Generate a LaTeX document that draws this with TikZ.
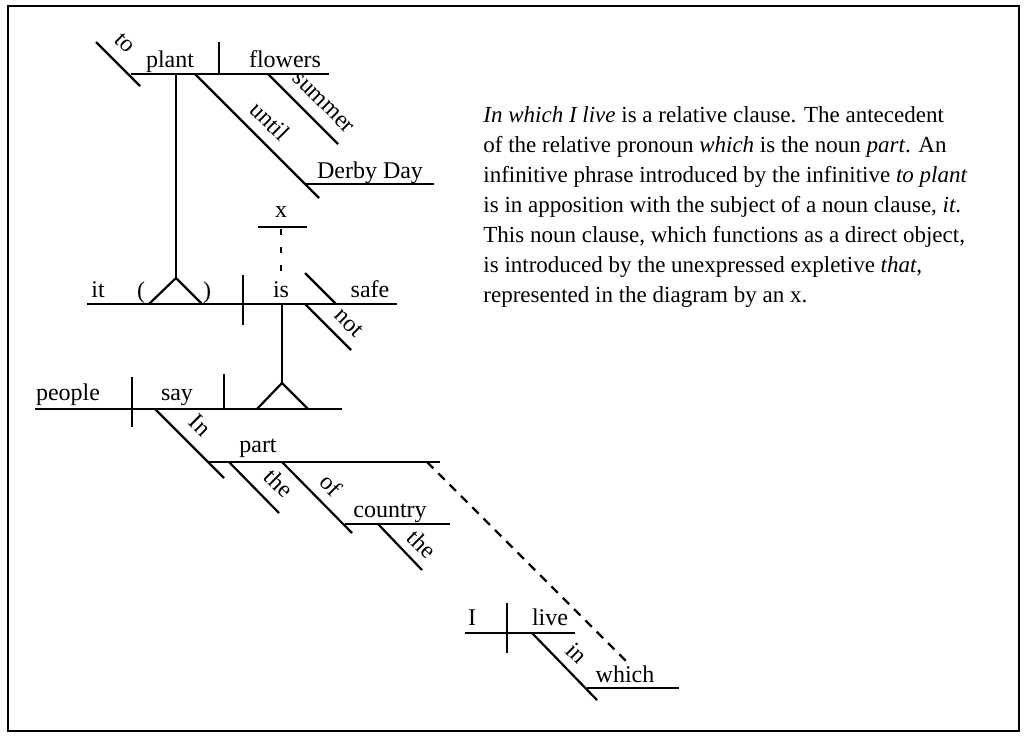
\documentclass[tikz,border=0pt]{standalone}
\usepackage{fontspec}
\setmainfont{Liberation Serif}
\usetikzlibrary{positioning}

\begin{document}
\begin{tikzpicture}[
  x=0.5pt, y=-0.5pt,
  rule/.style={line width=1.1pt},
  link/.style={line width=1.1pt, dash pattern=on 4.5pt off 3.5pt},
  gap/.style={line width=0.8pt, dash pattern=on 3pt off 6pt},
  word/.style={anchor=base, inner sep=0pt, font=\fontsize{12}{15}\selectfont},
  slantword/.style={rotate=-45, inner sep=0pt, font=\fontsize{12}{15}\selectfont}
]
  \useasboundingbox (0,0) rectangle (1026,738);
  \draw[line width=1pt] (8,6) rectangle (1019,731);

  % infinitive phrase: to plant flowers until Derby Day
  \coordinate (pl1) at (131,74);
  \coordinate (pl2) at (329,74);
  \draw[rule] (pl1) -- (pl2);
  \draw[rule] (96,42) -- (140,86);
  \draw[rule] (219,42) -- (219,74);
  \node[word] (plant) at (170,68) {plant};
  \node[word] (flowers) at (285,68) {flowers};
  \node[slantword] (to) at (125,43) {to};
  \draw[rule] (268,74) -- (338,144);
  \node[slantword] (summer) at (323,103) {summer};
  \draw[rule] (195,74) -- (319,198);
  \node[slantword] (until) at (270,121) {until};
  \draw[rule] (305,184) -- (434,184);
  \node[word] (derby) at (370,178) {Derby Day};

  % stand down to the subject it
  \coordinate (top) at (176,278);
  \draw[rule] (176,74) -- (top);
  \draw[rule] (149,304) -- (top) -- (202,304);

  % noun clause: it is safe
  \draw[rule] (87,304) -- (397,304);
  \draw[rule] (243,275) -- (243,325);
  \node[word] (it) at (98,297) {it};
  \node[word] (lpar) at (141,298) {(};
  \node[word] (rpar) at (207,298) {)};
  \node[word] (is) at (281,297) {is};
  \draw[rule] (305,273) -- (336,304);
  \node[word] (safe) at (370,297) {safe};
  \draw[rule] (305,304) -- (351,350);
  \node[slantword] (not) at (349,323) {not};

  % expletive x
  \draw[rule] (258,227) -- (307,227);
  \node[word] (x) at (281,217) {x};
  \draw[gap] (281,229) -- (281,281);

  % stand down to the main clause
  \coordinate (mid) at (282,383);
  \draw[rule] (282,304) -- (mid);
  \draw[rule] (257,409) -- (mid) -- (308,409);

  % main clause: people say
  \draw[rule] (35,409) -- (342,409);
  \draw[rule] (132,377) -- (132,427);
  \draw[rule] (224,374) -- (224,409);
  \node[word] (people) at (68,400) {people};
  \node[word] (say) at (177,400) {say};

  % In the part of the country
  \draw[rule] (155,409) -- (224,478);
  \node[slantword] (in1) at (200,425) {In};
  \coordinate (pt1) at (208,462);
  \coordinate (pt2) at (440,462);
  \draw[rule] (pt1) -- (pt2);
  \node[word] (part) at (258,452) {part};
  \draw[rule] (229,462) -- (279,513);
  \node[slantword] (the1) at (279,483) {the};
  \draw[rule] (282,462) -- (352,533);
  \node[slantword] (of) at (331,485) {of};
  \draw[rule] (345,524) -- (450,524);
  \node[word] (country) at (390,517) {country};
  \draw[rule] (378,524) -- (422,570);
  \node[slantword] (the2) at (422,544) {the};

  % relative clause: I live in which
  \draw[rule] (465,633) -- (575,633);
  \draw[rule] (507,603) -- (507,653);
  \node[word] (I) at (472,625) {I};
  \node[word] (live) at (550,625) {live};
  \draw[rule] (532,633) -- (597,700);
  \node[slantword] (in2) at (577,653) {in};
  \draw[rule] (587,688) -- (679,688);
  \node[word] (which) at (625,682) {which};
  \coordinate (rel) at (628,663);
  \draw[link] (427,462) -- (rel);

  % note
  \node[anchor=base west, inner sep=0pt, align=left, font=\fontsize{11.5}{15}\selectfont] (note) at (483,302)
    {\textit{In which I live} is a relative clause. The antecedent\\
     of the relative pronoun \textit{which} is the noun \textit{part}. An\\
     infinitive phrase introduced by the infinitive \textit{to plant}\\
     is in apposition with the subject of a noun clause, \textit{it}.\\
     This noun clause, which functions as a direct object,\\
     is introduced by the unexpressed expletive \textit{that},\\
     represented in the diagram by an x.};
\end{tikzpicture}
\end{document}
